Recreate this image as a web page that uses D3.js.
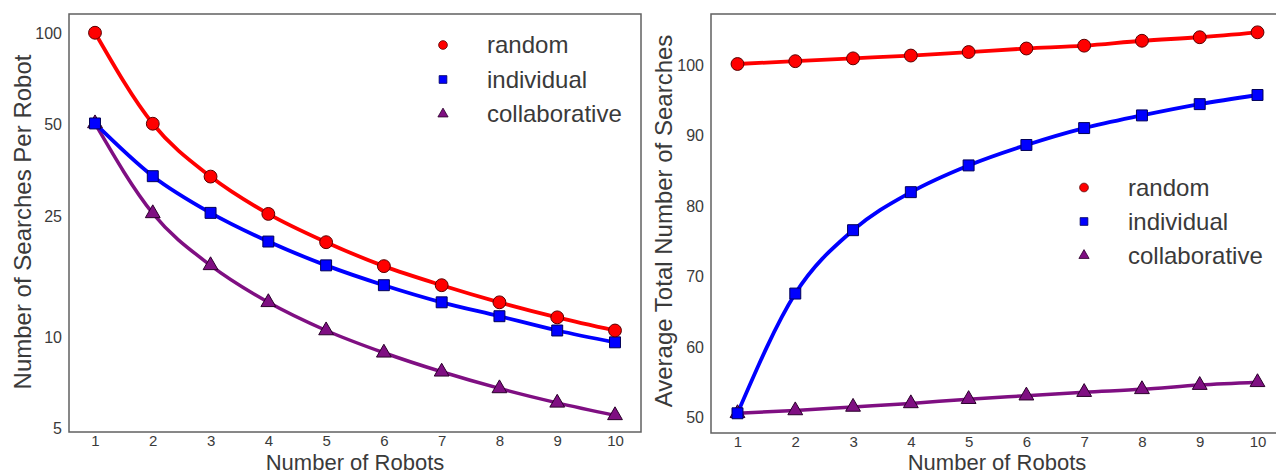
<!DOCTYPE html>
<html>
<head>
<meta charset="utf-8">
<script src="https://cdn.jsdelivr.net/npm/d3@7"></script>
<style>
  html, body { margin: 0; padding: 0; background: #fff; }
  svg { display: block; font-family: Arial, "Liberation Sans", sans-serif; }
</style>
</head>
<body>
<svg id="chart" width="1276" height="475"></svg>
<script>
// Number of robots on the x axis
const robots = [1, 2, 3, 4, 5, 6, 7, 8, 9, 10];

// Searches per robot (log scale panel)
const perRobotRandom        = [100.2, 50.3, 33.7, 25.4, 20.5, 17.1, 14.8, 13.0, 11.6, 10.5];
const perRobotIndividual    = [50.4, 33.8, 25.6, 20.6, 17.2, 14.8, 13.0, 11.7, 10.5, 9.6];
const perRobotCollaborative = [50.4, 25.5, 17.2, 13.0, 10.5, 8.87, 7.68, 6.77, 6.07, 5.52];

// Average total number of searches (linear panel)
const totalRandom        = [100.2, 100.6, 101.0, 101.4, 101.9, 102.4, 102.8, 103.5, 104.0, 104.7];
const totalIndividual    = [50.6, 67.6, 76.6, 82.0, 85.8, 88.7, 91.1, 92.9, 94.5, 95.8];
const totalCollaborative = [50.6, 51.0, 51.5, 52.0, 52.6, 53.1, 53.6, 54.0, 54.6, 55.0];

// Tick labels
const leftTicks  = [5, 10, 25, 50, 100];
const rightTicks = [50, 60, 70, 80, 90, 100];

const seriesNames = ["random", "individual", "collaborative"];
const colors  = { random: "#ff0000", individual: "#0000ff", collaborative: "#7f0f82" };
const strokes = { random: "#5a0000", individual: "#00005a", collaborative: "#2a002a" };
const shapes  = { random: d3.symbolCircle, individual: d3.symbolSquare, collaborative: d3.symbolTriangle };

const svg = d3.select("#chart");
const textColor = "#3a3a3a";
const frameColor = "#606060";
const fontFamily = "Arial, 'Liberation Sans', sans-serif";

function drawPanel(cfg) {
  const { left, right, top, bottom, x, y, series, ticks, yLabel, legend } = cfg;
  const g = svg.append("g");

  // frame
  g.append("rect")
    .attr("x", left).attr("y", top)
    .attr("width", right - left).attr("height", bottom - top)
    .attr("fill", "none").attr("stroke", frameColor).attr("stroke-width", 1.5);

  // x axis labels
  const xAxis = d3.axisBottom(x).tickValues(robots).tickSize(0).tickPadding(3).tickFormat(d3.format("d"));
  g.append("g").attr("transform", `translate(0,${bottom})`).call(xAxis)
    .call(s => s.select(".domain").remove())
    .selectAll("text").attr("font-size", 15).attr("fill", textColor).attr("font-family", fontFamily);

  // y axis labels
  const yAxis = d3.axisLeft(y).tickValues(ticks).tickSize(0).tickPadding(7).tickFormat(d3.format("d"));
  g.append("g").attr("transform", `translate(${left},0)`).call(yAxis)
    .call(s => s.select(".domain").remove())
    .selectAll("text").attr("font-size", 16).attr("fill", textColor).attr("font-family", fontFamily);

  // axis titles
  g.append("text")
    .attr("x", cfg.xTitleX).attr("y", 470)
    .attr("text-anchor", "middle").attr("font-size", 22).attr("fill", textColor)
    .text("Number of Robots");
  g.append("text")
    .attr("transform", `translate(${cfg.yTitleX},${cfg.yTitleY}) rotate(-90)`)
    .attr("text-anchor", "middle").attr("font-size", 24).attr("fill", textColor)
    .text(yLabel);

  const line = d3.line()
    .x((d, i) => x(robots[i]))
    .y(d => y(d))
    .curve(d3.curveMonotoneX);

  // draw in reverse so random sits on top
  const order = ["collaborative", "individual", "random"];
  order.forEach(name => {
    g.append("path")
      .datum(series[name])
      .attr("d", line)
      .attr("fill", "none")
      .attr("stroke", colors[name])
      .attr("stroke-width", name === "collaborative" ? 3.5 : 3.8)
      .attr("stroke-linejoin", "round");
  });
  order.forEach(name => {
    const sizes = { random: 130, individual: 120, collaborative: 95 };
    g.selectAll(null)
      .data(series[name])
      .join("path")
      .attr("transform", (d, i) => `translate(${x(robots[i])},${y(d)})`)
      .attr("d", d3.symbol(shapes[name], sizes[name]))
      .attr("fill", colors[name])
      .attr("stroke", strokes[name])
      .attr("stroke-width", 1);
  });

  // legend
  const legendSizes = { random: 60, individual: 60, collaborative: 45 };
  seriesNames.forEach((name, i) => {
    const cy = legend.y + i * legend.step;
    g.append("path")
      .attr("transform", `translate(${legend.x},${cy})`)
      .attr("d", d3.symbol(shapes[name], legendSizes[name]))
      .attr("fill", colors[name])
      .attr("stroke", strokes[name])
      .attr("stroke-width", 0.8);
    g.append("text")
      .attr("x", legend.x + 44).attr("y", cy)
      .attr("dy", "0.35em")
      .attr("font-size", 24).attr("fill", textColor)
      .text(name);
  });
}

// Left panel: searches per robot, log scale
const xL = d3.scaleLinear().domain([1, 10]).range([95, 615]);
const yL = d3.scaleLog().domain([4.83, 115.5]).range([433, 14]);
drawPanel({
  left: 69, right: 641, top: 14, bottom: 432,
  x: xL, y: yL, ticks: leftTicks,
  series: { random: perRobotRandom, individual: perRobotIndividual, collaborative: perRobotCollaborative },
  yLabel: "Number of Searches Per Robot",
  xTitleX: 355, yTitleX: 31, yTitleY: 222,
  legend: { x: 443, y: 45, step: 34.5 }
});

// Right panel: average total searches, linear scale
const xR = d3.scaleLinear().domain([1, 10]).range([737.5, 1257.5]);
const yR = d3.scaleLinear().domain([47.8, 107.3]).range([433, 14]);
drawPanel({
  left: 711, right: 1290, top: 14, bottom: 433,
  x: xR, y: yR, ticks: rightTicks,
  series: { random: totalRandom, individual: totalIndividual, collaborative: totalCollaborative },
  yLabel: "Average Total Number of Searches",
  xTitleX: 997, yTitleX: 672, yTitleY: 221,
  legend: { x: 1084, y: 187.5, step: 34 }
});
</script>
</body>
</html>
